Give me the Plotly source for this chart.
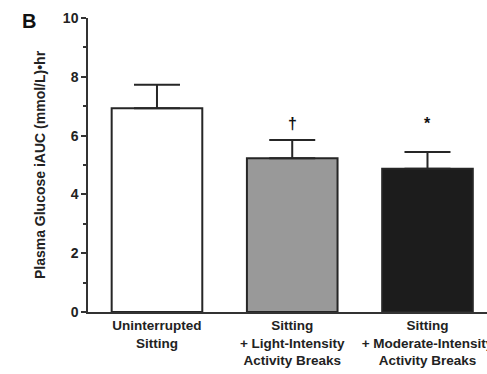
import plotly.graph_objects as go

categories = ["Uninterrupted<br>Sitting",
              "Sitting<br>+ Light-Intensity<br>Activity Breaks",
              "Sitting<br>+ Moderate-Intensity<br>Activity Breaks"]
values = [6.93, 5.23, 4.87]
errors = [0.80, 0.62, 0.57]
markers = ["", "†", "*"]
colors = ["#ffffff", "#999999", "#1c1c1c"]
yticks = [0, 2, 4, 6, 8, 10]
yminor = [1, 3, 5, 7, 9]

FONT = "Liberation Sans, Arial, sans-serif"
INK = "#262626"
fig = go.Figure()
fig.add_trace(go.Bar(
    x=list(range(len(categories))), y=values,
    marker=dict(color=colors, line=dict(color=INK, width=2)),
    error_y=dict(type="data", symmetric=False, array=errors, arrayminus=[0]*len(errors),
                 color=INK, thickness=2, width=23),
    width=0.67,
))
for i, m in enumerate(markers):
    if m:
        fig.add_annotation(x=i, y=6.05, text="<b>%s</b>" % m, showarrow=False, yanchor="bottom",
                           font=dict(family=FONT, size=16, color="#111"))
fig.add_annotation(x=(29-88)/399, y=(374-62-21)/294, xref="paper", yref="paper", text="<b>B</b>",
                   showarrow=False, xanchor="center", yanchor="middle",
                   font=dict(family=FONT, size=20, color="#111"))
fig.update_layout(
    width=487, height=374, margin=dict(l=88, r=0, t=18, b=62),
    plot_bgcolor="white", paper_bgcolor="white", showlegend=False,
    font=dict(family=FONT, color=INK),
)
fig.update_xaxes(range=[-0.51, 2.44], tickvals=list(range(len(categories))),
                 ticktext=["<b>" + c.replace("<br>", "</b><br><b>") + "</b>" for c in categories],
                 ticklabeloverflow="allow", automargin=False,
                 showline=True, linecolor="#333", linewidth=1.5, ticks="",
                 tickfont=dict(family=FONT, size=13.5, color="#222"), zeroline=False, showgrid=False)
fig.update_yaxes(range=[0, 10], tickvals=yticks, ticktext=["<b>%d</b>" % v for v in yticks],
                 automargin=False,
                 showline=True, linecolor="#333",
                 linewidth=1.5, ticks="outside", ticklen=5, tickwidth=1.5, tickcolor="#333",
                 minor=dict(tickvals=yminor, ticks="outside", ticklen=3, tickcolor="#333", tickwidth=1.5),
                 tickfont=dict(family=FONT, size=14, color="#222"), showgrid=False, zeroline=False,
                 title=dict(text="<b>Plasma Glucose iAUC (mmol/L)•hr</b>", standoff=14,
                            font=dict(family=FONT, size=14, color="#222")))
fig.write_html("out.html")
